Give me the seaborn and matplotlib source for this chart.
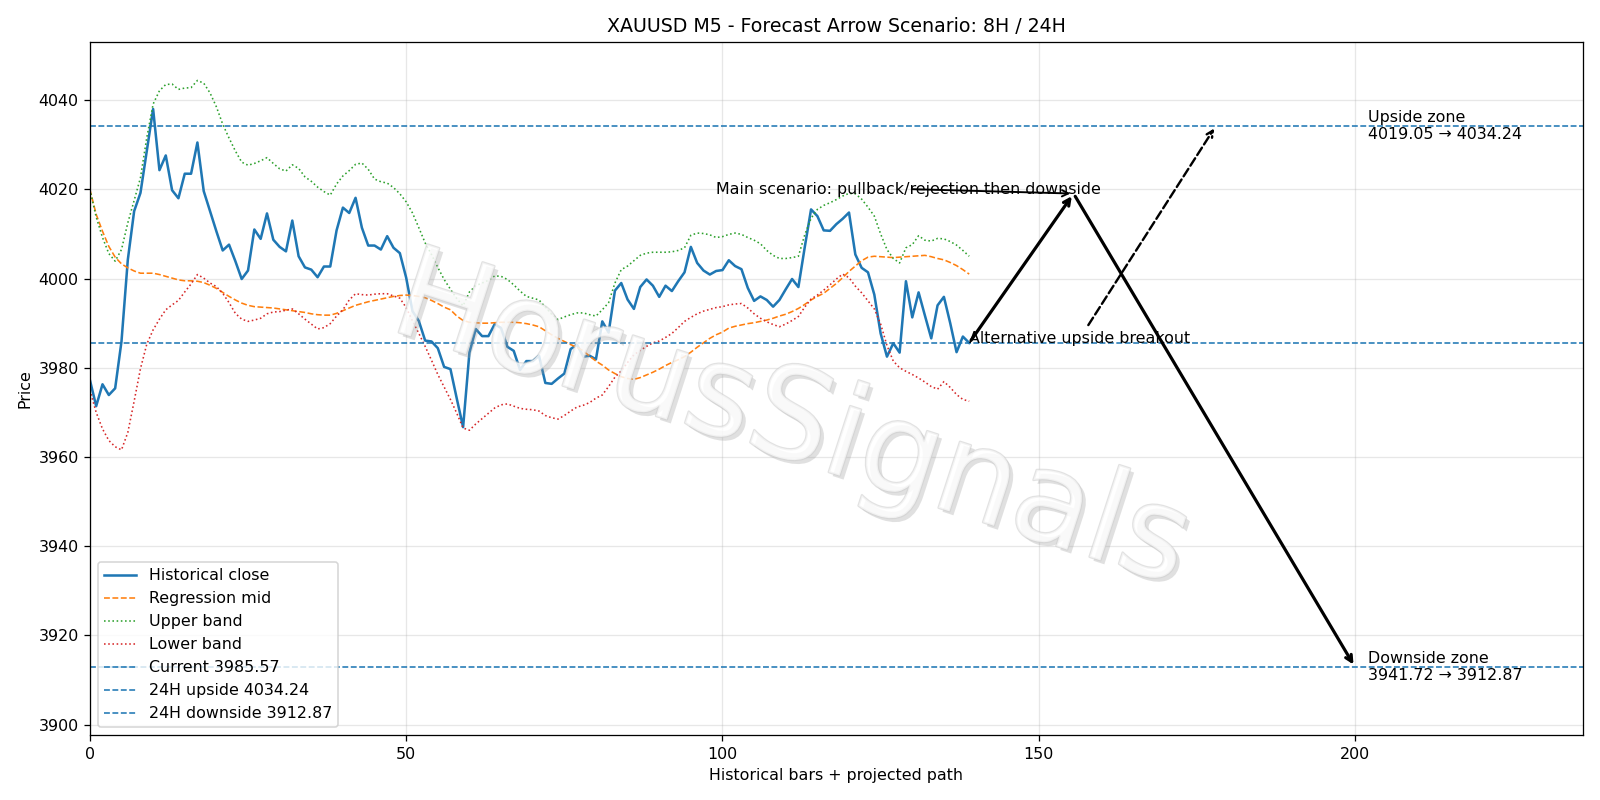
import numpy as np
import matplotlib
matplotlib.use("Agg")
import matplotlib.pyplot as plt
import matplotlib.patheffects as pe
import seaborn as sns

# ---------------- data ----------------
close = [
    3977.3, 3971.4, 3976.3, 3973.9, 3975.4, 3985.9, 4004.2, 4015.1, 4019.2, 4028.6,
    4038.0, 4024.3, 4027.6, 4019.8, 4018.0, 4023.5, 4023.5, 4030.5, 4019.6, 4015.1,
    4010.6, 4006.3, 4007.6, 4003.9, 3999.9, 4001.8, 4011.0, 4008.9, 4014.6, 4008.7,
    4007.1, 4006.1, 4013.0, 4005.0, 4002.5, 4002.0, 4000.3, 4002.7, 4002.7, 4010.8,
    4015.9, 4014.7, 4018.1, 4011.4, 4007.4, 4007.4, 4006.5, 4009.5, 4006.9, 4005.7,
    4000.2, 3992.7, 3990.5, 3986.1, 3985.9, 3984.4, 3980.2, 3979.7, 3973.1, 3966.7,
    3983.4, 3988.7, 3987.1, 3987.1, 3989.8, 3988.9, 3984.7, 3983.8, 3979.5, 3981.5,
    3981.5, 3982.7, 3976.6, 3976.4, 3977.6, 3978.7, 3984.2, 3985.2, 3982.5, 3982.7,
    3981.9, 3990.4, 3987.9, 3997.3, 3999.0, 3995.3, 3993.2, 3998.1, 3999.8, 3998.4,
    3995.9, 3998.4, 3997.2, 3999.4, 4001.4, 4007.1, 4003.5, 4001.8, 4000.9, 4001.7,
    4001.9, 4004.1, 4002.8, 4002.1, 3997.9, 3995.0, 3996.0, 3995.2, 3993.7, 3995.2,
    3997.6, 3999.9, 3998.1, 4007.0, 4015.5, 4014.0, 4010.8, 4010.7, 4012.2, 4013.4,
    4014.8, 4005.4, 4002.4, 4001.4, 3996.4, 3987.7, 3982.5, 3985.5, 3983.4, 3999.4,
    3991.3, 3996.9, 3991.7, 3986.6, 3994.0, 3995.9, 3990.0, 3983.5, 3987.0, 3985.57,
]

reg_mid = [
    4020.0, 4014.4, 4010.6, 4007.2, 4004.8, 4003.3, 4002.4, 4001.7, 4001.2, 4001.2,
    4001.2, 4000.9, 4000.5, 4000.1, 3999.7, 3999.5, 3999.5, 3999.4, 3999.1, 3998.5,
    3997.8, 3996.9, 3996.0, 3995.2, 3994.5, 3994.0, 3993.7, 3993.6, 3993.5, 3993.4,
    3993.2, 3993.0, 3992.8, 3992.6, 3992.4, 3992.1, 3991.9, 3991.8, 3991.8, 3992.2,
    3992.8, 3993.4, 3994.0, 3994.4, 3994.8, 3995.1, 3995.4, 3995.7, 3996.0, 3996.2,
    3996.3, 3996.2, 3996.0, 3995.7, 3995.1, 3994.4, 3993.6, 3993.0, 3991.6, 3990.6,
    3990.2, 3990.1, 3990.0, 3990.0, 3990.1, 3990.2, 3990.2, 3990.2, 3990.1, 3989.9,
    3989.6, 3989.2, 3988.3, 3987.4, 3986.6, 3985.9, 3985.2, 3984.6, 3983.8, 3982.6,
    3981.5, 3980.6, 3979.5, 3978.7, 3978.0, 3977.6, 3977.4, 3977.8, 3978.4, 3979.0,
    3979.7, 3980.5, 3981.2, 3981.8, 3982.5, 3983.5, 3984.6, 3985.6, 3986.6, 3987.4,
    3988.0, 3988.9, 3989.3, 3989.6, 3989.9, 3990.1, 3990.4, 3990.7, 3991.1, 3991.6,
    3992.0, 3992.6, 3993.3, 3994.2, 3995.2, 3996.0, 3996.7, 3997.8, 3998.9, 4000.2,
    4001.6, 4002.8, 4004.0, 4004.8, 4005.0, 4004.9, 4004.8, 4004.7, 4004.8, 4004.9,
    4005.0, 4005.1, 4005.2, 4004.9, 4004.5, 4004.2, 4003.6, 4002.9, 4002.0, 4001.0,
]

upper_band = [
    4020.0, 4013.8, 4009.2, 4005.6, 4003.9, 4006.5, 4012.5, 4017.5, 4022.6, 4031.6,
    4039.1, 4042.1, 4043.5, 4043.6, 4042.4, 4042.7, 4042.8, 4044.4, 4043.8, 4041.6,
    4038.5, 4034.6, 4031.5, 4028.6, 4026.1, 4025.4, 4025.8, 4026.4, 4027.1, 4025.8,
    4024.6, 4024.1, 4025.5, 4024.7, 4022.8, 4021.8, 4020.5, 4019.5, 4018.7, 4021.2,
    4023.0, 4024.2, 4025.6, 4025.9, 4024.5, 4022.3, 4021.7, 4021.4, 4020.4, 4019.0,
    4017.2, 4014.7, 4011.4, 4008.0, 4005.4, 4002.5, 3999.8, 3997.6, 3995.5, 3993.9,
    3997.0, 3998.4, 3999.0, 3999.6, 4000.6, 4000.5, 3999.8, 3998.6, 3997.2, 3996.0,
    3995.6, 3995.2, 3993.6, 3992.0, 3990.8, 3991.4, 3991.9, 3992.3, 3992.3, 3991.9,
    3991.6, 3993.0, 3994.6, 3999.0, 4002.0, 4002.8, 4004.0, 4005.2, 4005.7, 4005.9,
    4005.9, 4005.9, 4006.0, 4006.3, 4006.9, 4009.7, 4010.2, 4010.1, 4009.8, 4009.2,
    4009.4, 4009.9, 4010.2, 4009.9, 4009.2, 4008.6, 4007.8, 4006.3, 4005.2, 4004.5,
    4004.5, 4004.7, 4005.0, 4009.8, 4013.5, 4015.5, 4016.4, 4017.0, 4017.7, 4018.5,
    4019.1, 4019.0, 4017.8, 4016.0, 4014.0, 4010.0, 4006.5, 4004.5, 4003.5, 4006.9,
    4007.6, 4009.6, 4008.6, 4008.4, 4009.0, 4008.9, 4008.3, 4007.5, 4006.3, 4005.0,
]

lower_band = [
    3975.0, 3970.0, 3966.3, 3963.7, 3962.3, 3961.6, 3965.5, 3972.5, 3979.8, 3985.3,
    3988.5, 3990.9, 3993.0, 3994.1, 3995.1, 3997.0, 3998.8, 4000.9, 4000.1, 3999.0,
    3998.2, 3996.7, 3994.6, 3992.2, 3990.9, 3990.4, 3990.7, 3991.1, 3992.1, 3992.5,
    3992.6, 3992.9, 3993.2, 3992.1, 3990.9, 3989.8, 3988.7, 3989.0, 3989.9, 3991.6,
    3993.0, 3995.2, 3996.6, 3996.4, 3996.3, 3996.5, 3996.6, 3996.6, 3996.1, 3995.6,
    3993.5, 3990.5, 3987.7, 3984.8, 3981.7, 3978.5, 3975.7, 3972.9, 3969.8, 3966.5,
    3966.0, 3967.4, 3968.6, 3969.8, 3971.0, 3971.7, 3971.9, 3971.4, 3970.9, 3970.7,
    3970.6, 3970.3, 3969.3, 3968.8, 3968.5, 3969.3, 3970.3, 3971.2, 3971.6, 3972.2,
    3973.2, 3973.9, 3975.8, 3977.9, 3979.3, 3981.2, 3982.9, 3983.9, 3984.8, 3985.6,
    3986.0, 3986.8, 3987.7, 3989.0, 3990.4, 3991.3, 3992.1, 3992.7, 3993.1, 3993.5,
    3993.7, 3994.1, 3994.3, 3994.4, 3993.4, 3992.1, 3991.1, 3990.3, 3989.7, 3989.2,
    3989.8, 3990.6, 3991.5, 3993.6, 3995.4, 3996.3, 3997.4, 3998.6, 3999.9, 4001.0,
    4000.2, 3998.3, 3996.8, 3995.0, 3993.2, 3989.8, 3985.0, 3981.5, 3980.0, 3979.2,
    3978.5, 3977.7, 3976.8, 3975.8, 3975.2, 3976.9, 3975.6, 3974.0, 3972.9, 3972.5,
]

current = 3985.57
upside_24h = 4034.24
downside_24h = 3912.87
upside_zone = (4019.05, 4034.24)
downside_zone = (3941.72, 3912.87)

# projected path (bar index, price)
peak = (155.5, 4019.05)
down_target = (200, downside_24h)
alt_target = (178, upside_24h)

bars = np.arange(len(close))
last_bar = bars[-1]

# ---------------- plot ----------------
fig, ax = plt.subplots(figsize=(14, 7), dpi=1600 / 14)

sns.lineplot(x=bars, y=close, ax=ax, color="#1f77b4", linewidth=1.6,
             label="Historical close")
sns.lineplot(x=bars, y=reg_mid, ax=ax, color="#ff7f0e", linewidth=1.0,
             linestyle="--", label="Regression mid")
sns.lineplot(x=bars, y=upper_band, ax=ax, color="#2ca02c", linewidth=1.0,
             linestyle=":", label="Upper band")
sns.lineplot(x=bars, y=lower_band, ax=ax, color="#d62728", linewidth=1.0,
             linestyle=":", label="Lower band")

ax.axhline(current, color="#1f77b4", linestyle="--", linewidth=1.0,
           label=f"Current {current:.2f}")
ax.axhline(upside_24h, color="#1f77b4", linestyle="--", linewidth=1.0,
           label=f"24H upside {upside_24h:.2f}")
ax.axhline(downside_24h, color="#1f77b4", linestyle="--", linewidth=1.0,
           label=f"24H downside {downside_24h:.2f}")

# main scenario arrows
ax.annotate("", xy=peak, xytext=(last_bar, current),
            arrowprops=dict(arrowstyle="->", color="black", lw=2.0))
ax.annotate("", xy=down_target, xytext=peak,
            arrowprops=dict(arrowstyle="->", color="black", lw=2.0))
ax.annotate("Main scenario: pullback/rejection then downside",
            xy=peak, xytext=(99, peak[1]),
            arrowprops=dict(arrowstyle="->", color="black", lw=1.2))

# alternative scenario
ax.annotate("Alternative upside breakout",
            xy=alt_target, xytext=(last_bar, current),
            arrowprops=dict(arrowstyle="->", color="black", lw=1.5,
                            linestyle="--"))

ax.text(202, upside_24h,
        f"Upside zone\n{upside_zone[0]:.2f} \u2192 {upside_zone[1]:.2f}",
        va="center", ha="left")
ax.text(202, downside_24h,
        f"Downside zone\n{downside_zone[0]:.2f} \u2192 {downside_zone[1]:.2f}",
        va="center", ha="left")

# watermark
ax.text(0.47, 0.45, "HorusSignals", transform=ax.transAxes,
        fontsize=80, rotation=-18, ha="center", va="center",
        color="white", alpha=0.6, zorder=10,
        path_effects=[
            pe.SimplePatchShadow(offset=(2.5, -2.5), shadow_rgbFace="#9a9a9a", alpha=0.3),
            pe.Stroke(linewidth=1.5, foreground="#cfcfcf"),
            pe.Normal(),
        ])

ax.set_xlim(0, 236)
ax.set_ylim(3897.6, 4053.1)
ax.set_title("XAUUSD M5 - Forecast Arrow Scenario: 8H / 24H")
ax.set_xlabel("Historical bars + projected path")
ax.set_ylabel("Price")
ax.grid(True, alpha=0.3)
ax.legend(loc="lower left")

plt.tight_layout()
plt.savefig("out.png", dpi=1600 / 14)
plt.close()
